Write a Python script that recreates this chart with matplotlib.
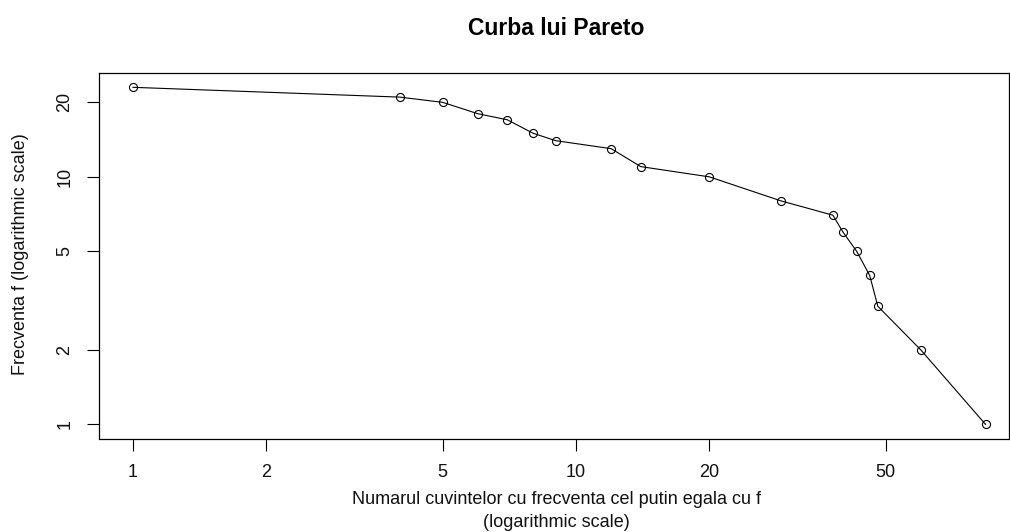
import matplotlib
matplotlib.use("Agg")
import matplotlib.pyplot as plt
from matplotlib.ticker import FixedLocator, FixedFormatter, NullLocator

plt.rcParams['font.family'] = ['Liberation Sans', 'DejaVu Sans']

# numarul de cuvinte (x) si frecventa (y)
n_words = [1, 4, 5, 6, 7, 8, 9, 12, 14, 20, 29, 38, 40, 43, 46, 48, 60, 84]
freq = [23, 21, 20, 18, 17, 15, 14, 13, 11, 10, 8, 7, 6, 5, 4, 3, 2, 1]

x_ticks = [1, 2, 5, 10, 20, 50]
y_ticks = [1, 2, 5, 10, 20]

W, H = 1010, 532
fig = plt.figure(figsize=(W / 100, H / 100), dpi=100)
ax = fig.add_axes([99 / W, (H - 438.5) / H, 910 / W, 366 / H])

ax.plot(n_words, freq, color='black', linewidth=0.8,
        marker='o', markersize=5.8, markerfacecolor='none',
        markeredgecolor='black', markeredgewidth=0.8)

ax.set_xscale('log')
ax.set_yscale('log')
ax.set_xlim(0.838, 94.9)
ax.set_ylim(0.877, 26.4)

ax.xaxis.set_major_locator(FixedLocator(x_ticks))
ax.xaxis.set_major_formatter(FixedFormatter([str(v) for v in x_ticks]))
ax.xaxis.set_minor_locator(NullLocator())
ax.yaxis.set_major_locator(FixedLocator(y_ticks))
ax.yaxis.set_major_formatter(FixedFormatter([str(v) for v in y_ticks]))
ax.yaxis.set_minor_locator(NullLocator())

ax.tick_params(axis='both', direction='out', length=8.6, width=0.8,
               labelsize=13, colors='black', labelcolor='#111111')
ax.tick_params(axis='x', pad=10)
ax.tick_params(axis='y', pad=10)
for lab in ax.get_yticklabels():
    lab.set_rotation(90)
    lab.set_va('center')

for s in ax.spines.values():
    s.set_linewidth(0.9)
    s.set_color('black')

fig.text(556 / W, 1 - 35 / H, 'Curba lui Pareto', ha='center', va='baseline',
         fontsize=16.5, fontweight='bold')
fig.text(556 / W, 1 - 504.5 / H, 'Numarul cuvintelor cu frecventa cel putin egala cu f',
         ha='center', va='baseline', fontsize=13, color='#111111')
fig.text(556 / W, 1 - 527 / H, '(logarithmic scale)',
         ha='center', va='baseline', fontsize=13, color='#111111')
fig.text(21 / W, 1 - 254 / H, 'Frecventa f (logarithmic scale)',
         ha='center', va='center', rotation=90, fontsize=13, color='#111111')

fig.savefig('out.png', dpi=100)
